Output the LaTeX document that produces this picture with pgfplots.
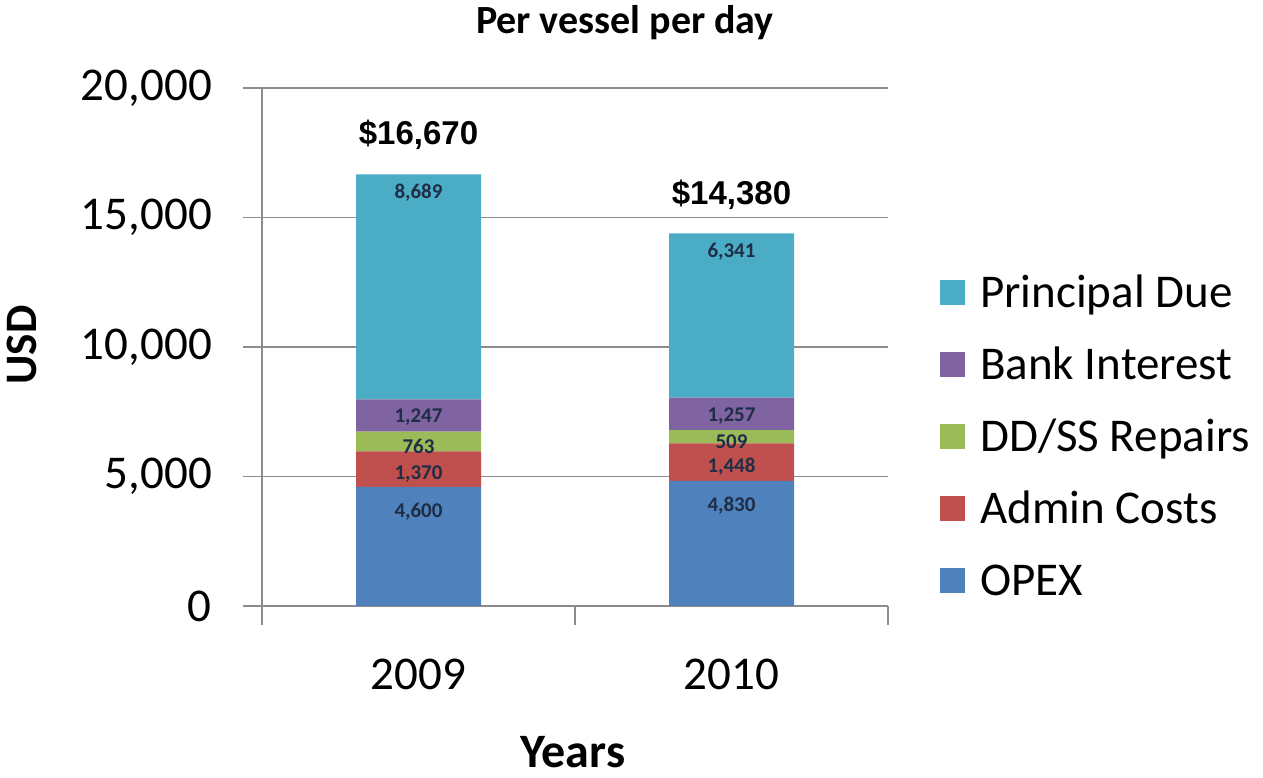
\documentclass[border=0pt]{standalone}
\usepackage{pgfplots}
\pgfplotsset{compat=1.18}
\usepackage{pgfplotstable}
\usepackage{fontspec}
\setmainfont{Carlito}
\newfontfamily\arialfont{Liberation Sans}

\definecolor{cOPEX}{HTML}{4F81BD}
\definecolor{cAdmin}{HTML}{C0504D}
\definecolor{cDD}{HTML}{9BBB59}
\definecolor{cBank}{HTML}{8064A2}
\definecolor{cPrin}{HTML}{4BACC6}
\definecolor{gridgray}{HTML}{8C8C8C}
\definecolor{lbl}{HTML}{1F2D46}

\pgfplotstableread{
x opex admin dd bank prin
0.5 4600 1370 763 1247 8689
1.5 4830 1448 509 1257 6341
}\data

\begin{document}
\begin{tikzpicture}
\useasboundingbox (0,0) rectangle (1263bp,778bp);
\begin{axis}[
  at={(262bp,172bp)}, anchor=south west,
  scale only axis, width=626bp, height=518bp,
  xmin=0, xmax=2, ymin=0, ymax=20000,
  ybar stacked, bar width=125bp,
  every axis plot post/.append style={
    legend image code/.code={\fill[##1, draw=none] (0bp,-12.5bp) rectangle (25bp,12.5bp);}},
  axis lines*=left,
  axis line style={draw=gridgray, line width=1.5bp, -},
  xtick={0,1,2}, xticklabels={},
  extra x ticks={0.5,1.5}, extra x tick labels={2009,2010},
  extra x tick style={major tick length=0pt, grid=none},
  scaled y ticks=false,
  ytick={0,5000,10000,15000,20000},
  yticklabels={0,{5,000},{10,000},{15,000},{20,000}},
  ymajorgrids, grid style={draw=gridgray, line width=1.5bp},
  tick align=outside, major tick length=19bp,
  tick style={draw=gridgray, line width=1.5bp},
  ticklabel style={font=\fontsize{47bp}{56bp}\selectfont, text=black},
  yticklabel style={anchor=east, inner sep=0pt, xshift=-31bp},
  xticklabel style={anchor=north, inner sep=0pt, yshift=-53bp},
  point meta=explicit,
  nodes near coords={\pgfmathprintnumber[fixed, precision=0, 1000 sep={,}, assume math mode=true]{\pgfplotspointmeta}},
  nodes near coords style={font=\bfseries\fontsize{21bp}{24bp}\selectfont, text=lbl, anchor=center},
  legend style={draw=none, fill=none, at={(1.0783,0.6795)}, anchor=north west,
    font=\fontsize{47bp}{56bp}\selectfont, row sep=0pt, column sep=15bp,
    nodes={inner sep=0pt, minimum height=72bp, text height=30bp, text depth=0pt},
    cells={anchor=west}},
  reverse legend,
]
\addplot[fill=cOPEX, draw=none,
  visualization depends on={0.01295*\thisrow{opex}-25 \as \myshift},
  every node near coord/.append style={yshift=\myshift*1bp}] table[x=x, y=opex, meta=opex]{\data};
\addplot[fill=cAdmin, draw=none, every node near coord/.append style={yshift=-5bp}] table[x=x, y=admin, meta=admin]{\data};
\addplot[fill=cDD, draw=none, every node near coord/.append style={yshift=-5bp}] table[x=x, y=dd, meta=dd]{\data};
\addplot[fill=cBank, draw=none, every node near coord/.append style={yshift=-2bp}] table[x=x, y=bank, meta=bank]{\data};
\addplot[fill=cPrin, draw=none,
  visualization depends on={0.01295*\thisrow{prin}-18 \as \myshift},
  every node near coord/.append style={yshift=\myshift*1bp}] table[x=x, y=prin, meta=prin]{\data};
\legend{OPEX, Admin Costs, DD/SS Repairs, Bank Interest, Principal Due}
\node[yshift=39bp, font=\arialfont\bfseries\fontsize{33bp}{40bp}\selectfont] at (axis cs:0.5,16670) {\$16,670};
\node[yshift=39bp, font=\arialfont\bfseries\fontsize{33bp}{40bp}\selectfont] at (axis cs:1.5,14380) {\$14,380};
\end{axis}
\node[font=\bfseries\fontsize{40bp}{46bp}\selectfont] at (625bp,755bp) {Per vessel per day};
\node[rotate=90, font=\bfseries\fontsize{45bp}{54bp}\selectfont] at (22bp,433bp) {USD};
\node[anchor=base, inner sep=0pt, font=\bfseries\fontsize{48bp}{56bp}\selectfont] at (573bp,11bp) {Years};
\end{tikzpicture}
\end{document}
